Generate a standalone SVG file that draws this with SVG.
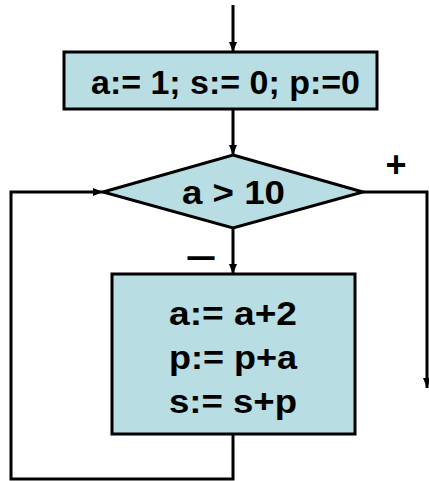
<svg xmlns="http://www.w3.org/2000/svg" width="429" height="481" viewBox="0 0 429 481">
<style>
.shape{fill:#b8dde3;stroke:#000;stroke-width:3}
.conn{fill:none;stroke:#000;stroke-width:3}
.t{font-family:"Liberation Sans",Arial,sans-serif;font-weight:bold;font-size:33px;fill:#000}
.sym{font-family:"Liberation Sans",Arial,sans-serif;font-weight:bold;font-size:36px;fill:#000}
</style>
<defs>
<marker id="ah" markerWidth="10" markerHeight="8" refX="10" refY="4" orient="auto" markerUnits="userSpaceOnUse">
<path d="M0,0 L10,4 L0,8 Z" fill="#000"/>
</marker>
</defs>
<g id="connectors">
<path class="conn" d="M233,5 V52" marker-end="url(#ah)"/>
<path class="conn" d="M233,109 V155" marker-end="url(#ah)"/>
<path class="conn" d="M233,228 V274" marker-end="url(#ah)"/>
<path class="conn" d="M363,192 H427 V388" marker-end="url(#ah)"/>
<path class="conn" d="M233,434 V479 H11 V192 H103" marker-end="url(#ah)"/>
</g>
<g id="init">
<rect class="shape" x="64" y="52" width="313" height="57"/>
<text class="t" x="91" y="94" textLength="269" lengthAdjust="spacingAndGlyphs">a:= 1; s:= 0; p:=0</text>
</g>
<g id="cond">
<polygon class="shape" points="233,155 363,192 233,228 103,192"/>
<text class="t" x="182" y="204" textLength="103" lengthAdjust="spacingAndGlyphs">a &gt; 10</text>
</g>
<g id="body">
<rect class="shape" x="112" y="274" width="243" height="160"/>
<text class="t" x="169" y="325" textLength="128" lengthAdjust="spacingAndGlyphs">a:= a+2</text>
<text class="t" x="169" y="369" textLength="128" lengthAdjust="spacingAndGlyphs">p:= p+a</text>
<text class="t" x="169" y="413" textLength="128" lengthAdjust="spacingAndGlyphs">s:= s+p</text>
</g>
<g id="labels">
<text class="sym" x="396" y="177" text-anchor="middle">+</text>
<text class="sym" x="201" y="268" text-anchor="middle" textLength="27" lengthAdjust="spacingAndGlyphs">—</text>
</g>
</svg>
